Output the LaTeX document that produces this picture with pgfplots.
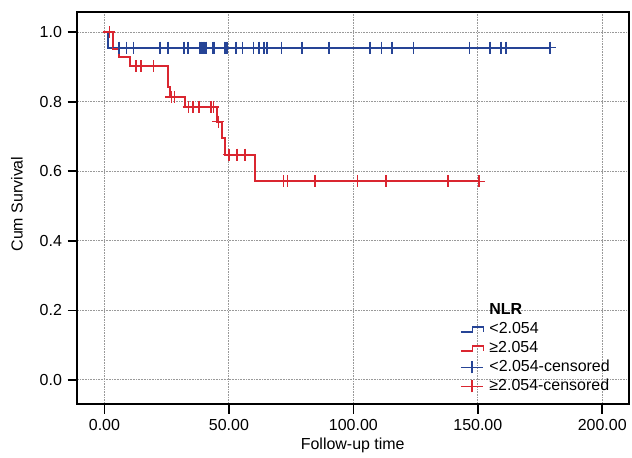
\documentclass[border=0pt]{standalone}
\usepackage{pgfplots}
\pgfplotsset{compat=1.18}
\usepackage{fontspec}
\setmainfont{Liberation Sans}
\definecolor{kmblue}{RGB}{38,68,150}
\definecolor{kmred}{RGB}{218,38,48}
\pgfplotsset{
  stepblue/.style={legend image code/.code={\draw[kmblue, line width=1.1pt] (0pt,-1.9pt) -- (8.7pt,-1.9pt) -- (8.7pt,1.9pt) -- (17pt,1.9pt) -- (17pt,-1.9pt);}},
  stepred/.style={legend image code/.code={\draw[kmred, line width=1.1pt] (0pt,-1.9pt) -- (8.7pt,-1.9pt) -- (8.7pt,1.9pt) -- (17pt,1.9pt) -- (17pt,-1.9pt);}},
  censblue/.style={legend image code/.code={\draw[kmblue, line width=1.1pt] (0pt,0pt) -- (17pt,0pt); \draw[kmblue, line width=1pt] (8.5pt,-4.5pt) -- (8.5pt,4.5pt);}},
  censred/.style={legend image code/.code={\draw[kmred, line width=1.1pt] (0pt,0pt) -- (17pt,0pt); \draw[kmred, line width=1pt] (8.5pt,-4.5pt) -- (8.5pt,4.5pt);}},
}
\begin{document}
\fontsize{12}{14.4}\selectfont
\begin{tikzpicture}
\begin{axis}[
  scale only axis, width=414.75pt, height=295pt,
  xmin=-11.1, xmax=210.6, ymin=-0.07, ymax=1.059,
  xtick={0,50,100,150,200}, ytick={0,0.2,0.4,0.6,0.8,1.0},
  /pgf/number format/assume math mode=true,
  xticklabel style={/pgf/number format/.cd, fixed, fixed zerofill, precision=2},
  yticklabel style={/pgf/number format/.cd, fixed, fixed zerofill, precision=1},
  tick align=outside, tick pos=left, major tick length=7pt,
  every tick/.style={black, line width=1.2pt},
  axis line style={line width=1.4pt},
  grid=major,
  major grid style={gray!80, line width=0.7pt, dash pattern=on 0.6pt off 0.6pt},
  xlabel={Follow-up time}, ylabel={Cum Survival},
  xlabel style={at={(axis description cs:0.5,-0.104)}, anchor=center},
  ylabel style={at={(axis description cs:-0.1085,0.51)}, anchor=center},
  legend style={draw=none, fill=none, at={(rel axis cs:0.694,0.261)}, anchor=north west,
    inner sep=0pt, row sep=1.0pt, column sep=3pt,
    nodes={inner sep=1pt, text height=8.6pt, text depth=2.6pt, font=\fontsize{12}{14.4}\selectfont}},
  legend cell align=left,
  clip=false,
]
\addlegendimage{empty legend}
\addlegendentry{\textbf{NLR}}
\addlegendimage{stepblue}
\addlegendentry{<2.054}
\addlegendimage{stepred}
\addlegendentry{≥2.054}
\addlegendimage{censblue}
\addlegendentry{<2.054-censored}
\addlegendimage{censred}
\addlegendentry{≥2.054-censored}

% blue step curve
\addplot[kmblue, line width=1.5pt, const plot, forget plot] coordinates {
(1,1.0) (1.5,0.956) (179.0,0.956)};
% red step curve
\addplot[kmred, line width=1.5pt, const plot, forget plot] coordinates {
(1,1.0) (3.3,0.953) (6.0,0.929) (10.2,0.902) (25.5,0.843) (26.5,0.814) (32.5,0.785)
(45.2,0.743) (47.2,0.695) (48.3,0.648) (60.3,0.571) (150.4,0.571)};
% blue censored
\addplot[kmblue, only marks, mark=+, mark size=4.5pt, line width=1.25pt, forget plot] coordinates {
(5.8,0.956) (8.8,0.956) (11.7,0.956) (22.4,0.956) (25.5,0.956) (31.9,0.956) (33.5,0.956)
(38.2,0.956) (38.9,0.956) (39.5,0.956) (40.2,0.956) (40.9,0.956) (43.5,0.956) (44.2,0.956)
(48.2,0.956) (48.9,0.956) (49.5,0.956) (52.9,0.956) (55.5,0.956) (59.9,0.956) (62.2,0.956)
(64.2,0.956) (65.2,0.956) (71.1,0.956) (79.3,0.956) (90.3,0.956) (106.8,0.956) (111.3,0.956)
(115.5,0.956) (124.1,0.956) (146.7,0.956) (154.8,0.956) (159.3,0.956) (161.2,0.956) (179.0,0.956)};
% red censored
\addplot[kmred, only marks, mark=+, mark size=4.5pt, line width=1.25pt, forget plot] coordinates {
(2.0,1.0) (12.7,0.902) (14.6,0.902) (19.7,0.902) (26.9,0.814) (28.2,0.814)
(33.8,0.785) (35.7,0.785) (38.1,0.785) (42.8,0.785) (43.8,0.785) (45.8,0.743)
(50.0,0.648) (53.3,0.648) (56.5,0.648) (71.9,0.571) (73.6,0.571) (84.7,0.571)
(101.6,0.571) (113.0,0.571) (138.0,0.571) (150.4,0.571)};
\end{axis}
\path ([shift={(-57.75pt,-39pt)}]current axis.south west) rectangle ([shift={(1.5pt,8.8pt)}]current axis.north east);
\end{tikzpicture}
\end{document}
